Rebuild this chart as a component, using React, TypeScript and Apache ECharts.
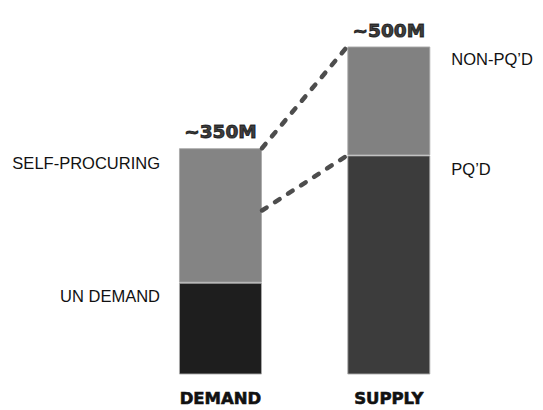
import React, { useEffect, useRef } from "react";
import * as echarts from "echarts";

const categories = ["DEMAND", "SUPPLY"];
const lowerNames = ["UN DEMAND", "PQ\u2019D"];
const lowerValues = [140, 334];
const upperNames = ["SELF-PROCURING", "NON-PQ\u2019D"];
const upperValues = [205, 166];
const totalLabels = ["~350M", "~500M"];
// connectors: [fromCategory, fromValue, toCategory, toValue]
const connectors = [
  [0, 345, 1, 500],
  [0, 250, 1, 334],
];

const lowerColors = ["#1e1e1e", "#3c3c3c"];
const upperColors = ["#848484", "#818181"];
const BAR_W = 83;

export default function App() {
  const ref = useRef<HTMLDivElement>(null);
  useEffect(() => {
    if (!ref.current) return;
    const chart = echarts.init(ref.current, undefined, { renderer: "svg" });
    const sideLabel = (name: string, idx: number, offsetY: number) => ({
      show: true,
      formatter: name,
      position: idx === 0 ? [-19, offsetY] : [BAR_W + 21, offsetY],
      align: idx === 0 ? "right" : "left",
      verticalAlign: "middle",
      fontFamily: "Liberation Sans",
      fontSize: 16.5,
      color: "#111",
    });
    const totals = lowerValues.map((v, i) => v + upperValues[i]);
    chart.setOption({
      animation: false,
      grid: {
        left: 136.3,
        right: 70,
        top: 46.5,
        bottom: 35.5,
        outerBoundsMode: "none",
      },
      xAxis: {
        type: "category",
        data: categories,
        axisLine: { show: false },
        axisTick: { show: false },
        axisLabel: {
          margin: 15,
          fontFamily: "DejaVu Sans",
          fontWeight: "bold",
          fontSize: 16.5,
          color: "#111",
          textBorderColor: "#111",
          textBorderWidth: 0.6,
        },
      },
      yAxis: { type: "value", min: 0, max: 500, show: false },
      series: [
        {
          type: "bar",
          stack: "s",
          barWidth: BAR_W,
          data: lowerValues.map((v, i) => ({
            value: v,
            itemStyle: { color: lowerColors[i], borderColor: "rgba(170,170,170,0.9)", borderWidth: 1 },
            label: sideLabel(lowerNames[i], i, 13.5),
          })),
        },
        {
          type: "bar",
          stack: "s",
          barWidth: BAR_W,
          data: upperValues.map((v, i) => ({
            value: v,
            itemStyle: { color: upperColors[i], borderColor: "rgba(170,170,170,0.9)", borderWidth: 1 },
            label: sideLabel(upperNames[i], i, i === 0 ? 14.5 : 12.5),
          })),
        },
        {
          type: "scatter",
          symbolSize: 0,
          data: totals.map((t, i) => [i, t]),
          label: {
            show: true,
            position: "top",
            distance: 7,
            formatter: (p: any) => totalLabels[p.dataIndex],
            fontFamily: "DejaVu Sans",
            fontWeight: "bold",
            fontSize: 18.5,
            color: "#0a0a0a",
            textBorderColor: "#0a0a0a",
            textBorderWidth: 1,
          },
          z: 5,
        },
        {
          type: "custom",
          data: connectors,
          z: 4,
          renderItem: (params: any, api: any) => {
            const a = api.coord([api.value(0), api.value(1)]);
            const b = api.coord([api.value(2), api.value(3)]);
            return {
              type: "line",
              shape: { x1: a[0] + BAR_W / 2, y1: a[1], x2: b[0] - BAR_W / 2, y2: b[1] },
              style: {
                stroke: "#4d4d4d",
                lineWidth: 4.5,
                lineDash: [5.5, 10],
                lineCap: "round",
              },
            };
          },
        },
      ],
    });
    return () => chart.dispose();
  }, []);
  return <div ref={ref} style={{ width: 543, height: 410, position: "absolute", left: 0, top: 0 }} />;
}
